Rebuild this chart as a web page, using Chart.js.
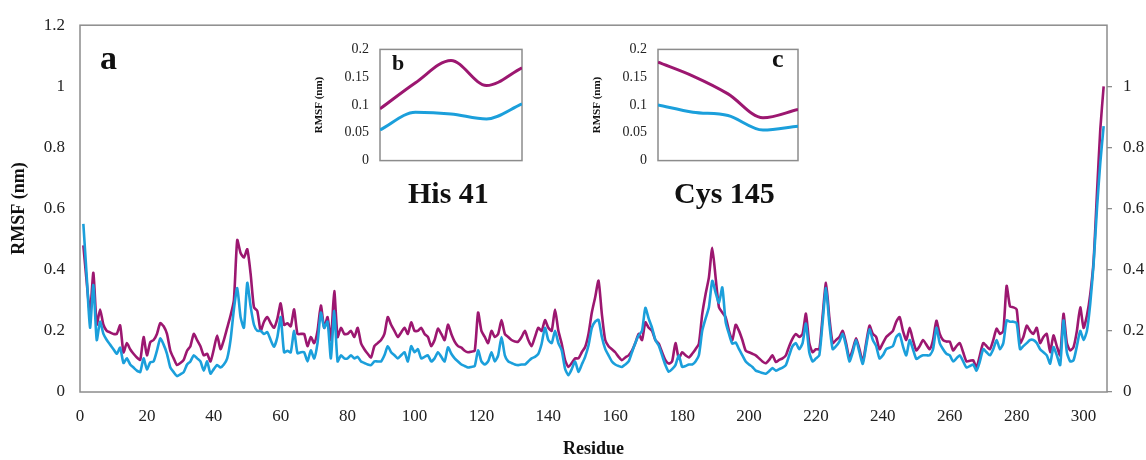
<!DOCTYPE html>
<html>
<head>
<meta charset="utf-8">
<script src="https://cdn.jsdelivr.net/npm/chart.js@4.4.0/dist/chart.umd.min.js"></script>
<style>
body { margin: 0; background: #fff; }
#lienzo { position: relative; width: 1146px; height: 460px; }
canvas, .rotulo { position: absolute; }
.rotulo { font-family: "Liberation Serif", serif; font-weight: bold; color: #111; line-height: 1; white-space: nowrap; }
</style>
</head>
<body>
<div id="lienzo">
    <canvas id="grafica" width="1146" height="460" style="left:0;top:0"></canvas>
    <canvas id="insertoB" width="230" height="150" style="left:300px;top:30px"></canvas>
    <canvas id="insertoC" width="230" height="150" style="left:578px;top:30px"></canvas>
    <div class="rotulo" style="left:100px;top:41px;font-size:34px">a</div>
    <div class="rotulo" style="left:392px;top:52px;font-size:22px">b</div>
    <div class="rotulo" style="left:772px;top:46px;font-size:26px">c</div>
    <div class="rotulo" style="left:408px;top:178px;font-size:30px">His 41</div>
    <div class="rotulo" style="left:674px;top:178px;font-size:30px">Cys 145</div>
</div>
<script>
// RMSF por residuo (1..306)
const rmsfMagenta = [
    0.48,0.36,0.26,0.39,0.22,0.27,0.22,0.2,0.195,0.19,
    0.19,0.218,0.13,0.16,0.14,0.125,0.113,0.105,0.18,0.12,
    0.163,0.17,0.19,0.225,0.215,0.19,0.135,0.11,0.088,0.095,
    0.105,0.135,0.15,0.19,0.17,0.15,0.12,0.125,0.1,0.14,
    0.185,0.14,0.17,0.21,0.25,0.3,0.497,0.455,0.44,0.467,
    0.387,0.277,0.265,0.2,0.23,0.245,0.225,0.21,0.24,0.29,
    0.22,0.225,0.215,0.27,0.19,0.19,0.19,0.15,0.18,0.16,
    0.2,0.283,0.21,0.245,0.17,0.33,0.18,0.21,0.19,0.19,
    0.2,0.18,0.21,0.16,0.14,0.125,0.113,0.15,0.16,0.17,
    0.19,0.245,0.22,0.2,0.18,0.195,0.21,0.19,0.228,0.2,
    0.2,0.21,0.19,0.18,0.15,0.17,0.207,0.19,0.17,0.22,
    0.19,0.165,0.15,0.145,0.135,0.13,0.132,0.135,0.26,0.2,
    0.18,0.16,0.2,0.18,0.19,0.235,0.19,0.18,0.17,0.165,
    0.165,0.18,0.2,0.17,0.15,0.18,0.21,0.2,0.235,0.21,
    0.2,0.27,0.2,0.158,0.104,0.082,0.095,0.11,0.11,0.13,
    0.147,0.19,0.26,0.31,0.364,0.255,0.17,0.15,0.14,0.13,
    0.115,0.104,0.113,0.12,0.135,0.16,0.19,0.17,0.228,0.21,
    0.2,0.17,0.158,0.13,0.104,0.093,0.1,0.16,0.11,0.13,
    0.12,0.113,0.125,0.14,0.158,0.255,0.32,0.375,0.472,0.375,
    0.277,0.26,0.245,0.2,0.17,0.22,0.2,0.17,0.135,0.13,
    0.125,0.12,0.11,0.1,0.094,0.105,0.12,0.098,0.105,0.11,
    0.12,0.15,0.175,0.19,0.18,0.19,0.256,0.16,0.13,0.14,
    0.14,0.25,0.357,0.244,0.16,0.17,0.18,0.2,0.16,0.11,
    0.14,0.176,0.14,0.1,0.16,0.217,0.19,0.18,0.14,0.16,
    0.18,0.19,0.2,0.23,0.245,0.2,0.17,0.21,0.17,0.136,
    0.15,0.17,0.155,0.14,0.17,0.233,0.19,0.17,0.165,0.165,
    0.136,0.15,0.16,0.13,0.1,0.102,0.104,0.08,0.12,0.16,
    0.15,0.14,0.17,0.207,0.19,0.2,0.347,0.28,0.277,0.27,
    0.16,0.18,0.217,0.2,0.19,0.21,0.16,0.18,0.19,0.13,
    0.185,0.15,0.12,0.256,0.16,0.136,0.147,0.2,0.277,0.21,
    0.25,0.32,0.43,0.65,0.86,1.0
];
const rmsfAzul = [
    0.55,0.38,0.21,0.35,0.17,0.23,0.19,0.17,0.155,0.14,
    0.125,0.145,0.095,0.11,0.09,0.08,0.07,0.065,0.11,0.074,
    0.097,0.1,0.135,0.175,0.155,0.125,0.08,0.065,0.052,0.058,
    0.065,0.09,0.1,0.12,0.11,0.1,0.07,0.1,0.06,0.075,
    0.088,0.08,0.09,0.11,0.17,0.27,0.34,0.245,0.21,0.357,
    0.28,0.22,0.2,0.2,0.19,0.196,0.17,0.148,0.18,0.245,
    0.13,0.135,0.13,0.2,0.127,0.13,0.13,0.1,0.136,0.11,
    0.16,0.26,0.21,0.23,0.11,0.265,0.1,0.12,0.11,0.11,
    0.12,0.11,0.115,0.1,0.095,0.09,0.088,0.1,0.1,0.1,
    0.12,0.15,0.13,0.12,0.11,0.12,0.13,0.1,0.15,0.13,
    0.14,0.11,0.115,0.12,0.1,0.11,0.13,0.115,0.1,0.146,
    0.125,0.11,0.1,0.09,0.085,0.08,0.082,0.085,0.136,0.1,
    0.09,0.1,0.13,0.1,0.12,0.18,0.12,0.1,0.095,0.09,
    0.088,0.09,0.09,0.1,0.11,0.115,0.125,0.158,0.21,0.17,
    0.16,0.2,0.16,0.136,0.076,0.055,0.075,0.1,0.066,0.09,
    0.115,0.152,0.21,0.23,0.236,0.18,0.141,0.12,0.1,0.09,
    0.085,0.082,0.09,0.1,0.13,0.16,0.185,0.2,0.275,0.24,
    0.21,0.17,0.152,0.12,0.088,0.066,0.075,0.088,0.12,0.082,
    0.085,0.09,0.09,0.1,0.12,0.2,0.24,0.277,0.364,0.325,
    0.292,0.342,0.23,0.19,0.158,0.162,0.14,0.12,0.1,0.09,
    0.082,0.07,0.066,0.062,0.06,0.068,0.078,0.07,0.075,0.08,
    0.088,0.12,0.15,0.16,0.14,0.16,0.224,0.13,0.1,0.11,
    0.12,0.23,0.34,0.224,0.14,0.15,0.165,0.19,0.15,0.1,
    0.13,0.17,0.13,0.092,0.15,0.205,0.17,0.15,0.11,0.12,
    0.14,0.145,0.15,0.18,0.19,0.15,0.12,0.17,0.14,0.108,
    0.115,0.12,0.12,0.12,0.14,0.21,0.16,0.14,0.125,0.12,
    0.1,0.11,0.12,0.1,0.08,0.085,0.09,0.07,0.1,0.14,
    0.13,0.12,0.14,0.17,0.14,0.16,0.234,0.23,0.23,0.225,
    0.14,0.15,0.16,0.17,0.17,0.16,0.14,0.13,0.12,0.093,
    0.147,0.12,0.088,0.234,0.13,0.1,0.104,0.15,0.2,0.17,
    0.2,0.29,0.42,0.6,0.75,0.87
];

// insertos: posiciones relativas dentro de cada recuadro
const pasosInserto = [0, 1, 2, 3, 4];
const his41Magenta = [0.093, 0.14, 0.18, 0.135, 0.167];
const his41Azul = [0.055, 0.087, 0.084, 0.075, 0.102];
const cys145Magenta = [0.177, 0.152, 0.12, 0.077, 0.092];
const cys145Azul = [0.1, 0.087, 0.081, 0.055, 0.062];

const ticksResiduo = [0, 20, 40, 60, 80, 100, 120, 140, 160, 180, 200, 220, 240, 260, 280, 300];
const ticksPrincipales = [0, 0.2, 0.4, 0.6, 0.8, 1, 1.2];
const ticksDerecha = [0, 0.2, 0.4, 0.6, 0.8, 1];
const ticksInserto = [0, 0.05, 0.1, 0.15, 0.2];

const MAGENTA = '#9c1770';
const AZUL = '#1b9fdb';
const GRIS = '#8c8c8c';
const LETRA = 'Liberation Serif';

const marco = {
    id: 'marco',
    beforeDatasetsDraw(chart) {
        const {ctx, chartArea: a} = chart;
        ctx.save();
        ctx.strokeStyle = GRIS;
        ctx.lineWidth = 1.5;
        ctx.strokeRect(a.left, a.top, a.right - a.left, a.bottom - a.top);
        ctx.restore();
    }
};

const formato = v => String(+v.toFixed(2));
const fijarTicks = lista => s => { s.ticks = lista.map(v => ({value: v})); };

function serie(valores, color, ancho) {
    return {
        data: valores.map((v, i) => ({x: i + 1, y: v})),
        borderColor: color,
        borderWidth: ancho,
        pointRadius: 0,
        tension: 0.2,
        fill: false
    };
}

function functionChart(grafica) {
    new Chart(grafica, {
        type: 'line',
        data: {
            datasets: [serie(rmsfAzul, AZUL, 2.6), serie(rmsfMagenta, MAGENTA, 2.6)]
        },
        options: {
            responsive: false,
            animation: false,
            layout: {padding: {top: 22, right: 0, left: 0, bottom: 0}},
            plugins: {legend: {display: false}, tooltip: {enabled: false}},
            scales: {
                x: {
                    type: 'linear', min: 0, max: 307,
                    afterBuildTicks: fijarTicks(ticksResiduo),
                    ticks: {padding: 14, maxRotation: 0, autoSkip: false,
                        color: '#222', font: {family: LETRA, size: 17}},
                    grid: {display: false, drawTicks: false},
                    border: {display: false},
                    title: {display: true, text: 'Residue', color: '#111', padding: {top: 0, bottom: 0},
                        font: {family: LETRA, size: 18, weight: 'bold'}},
                    afterFit: s => { s.height = 68; }
                },
                y: {
                    position: 'left', min: 0, max: 1.2,
                    afterBuildTicks: fijarTicks(ticksPrincipales),
                    ticks: {padding: 15, callback: formato, color: '#222', font: {family: LETRA, size: 17}},
                    grid: {display: false, drawTicks: false},
                    border: {display: false},
                    title: {display: true, text: 'RMSF (nm)', color: '#111', padding: {top: 9},
                        font: {family: LETRA, size: 18, weight: 'bold'}},
                    afterFit: s => { s.width = 80; }
                },
                y2: {
                    position: 'right', min: 0, max: 1.2,
                    afterBuildTicks: fijarTicks(ticksDerecha),
                    ticks: {padding: 11, callback: formato, color: '#222', font: {family: LETRA, size: 17}},
                    grid: {drawOnChartArea: false, drawTicks: true, tickLength: 5, color: GRIS, lineWidth: 1.3},
                    border: {display: false},
                    afterFit: s => { s.width = 39; }
                }
            }
        },
        plugins: [marco]
    });
}

function functionInserto(canvas, magenta, azul, derecha) {
    const puntos = vals => vals.map((v, i) => ({x: pasosInserto[i], y: v}));
    new Chart(canvas, {
        type: 'line',
        data: {
            datasets: [
                {data: puntos(azul), borderColor: AZUL, borderWidth: 3, pointRadius: 0,
                    tension: 0.4, cubicInterpolationMode: 'monotone'},
                {data: puntos(magenta), borderColor: MAGENTA, borderWidth: 3, pointRadius: 0,
                    tension: 0.4, cubicInterpolationMode: 'monotone'}
            ]
        },
        options: {
            responsive: false,
            animation: false,
            layout: {padding: {top: 13, right: derecha, left: 0, bottom: 6}},
            plugins: {legend: {display: false}, tooltip: {enabled: false}},
            scales: {
                x: {type: 'linear', min: 0, max: 4, display: false},
                y: {
                    min: 0, max: 0.2,
                    afterBuildTicks: fijarTicks(ticksInserto),
                    ticks: {padding: 11, callback: formato, color: '#222', font: {family: LETRA, size: 14}},
                    grid: {display: false, drawTicks: false},
                    border: {display: false},
                    title: {display: true, text: 'RMSF (nm)', color: '#111', padding: {top: 13},
                        font: {family: LETRA, size: 11, weight: 'bold'}},
                    afterFit: s => { s.width = 80; }
                }
            }
        },
        plugins: [marco]
    });
}

functionChart(document.getElementById('grafica'));
functionInserto(document.getElementById('insertoB'), his41Magenta, his41Azul, 8);
functionInserto(document.getElementById('insertoC'), cys145Magenta, cys145Azul, 10);
</script>
</body>
</html>
